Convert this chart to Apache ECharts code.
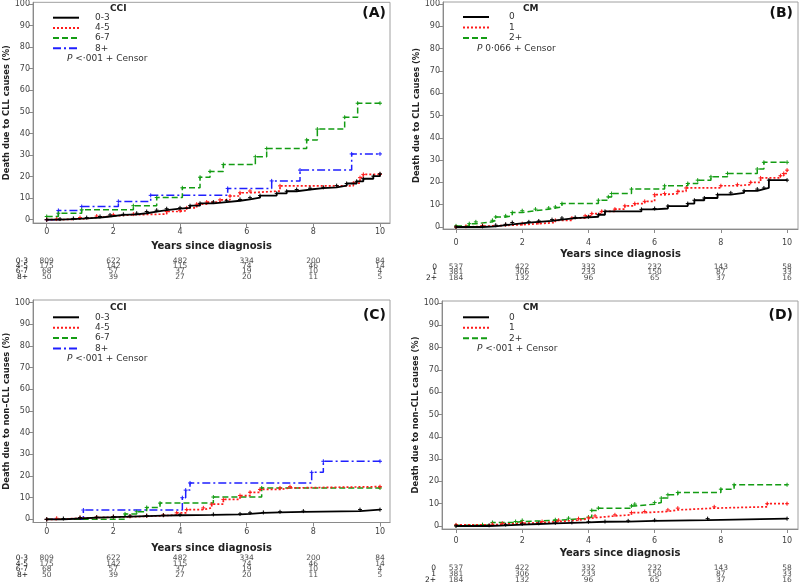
<!DOCTYPE html>
<html><head><meta charset="utf-8">
<script src="https://cdn.jsdelivr.net/npm/echarts@6/dist/echarts.min.js"></script>
<style>html,body{margin:0;padding:0;background:#fff}#c{width:800px;height:585px}</style>
</head><body><div id="c"></div>
<script>
// ---------- data ----------
const timeTicks = [0, 2, 4, 6, 8, 10];
const pctTicks = [0, 10, 20, 30, 40, 50, 60, 70, 80, 90, 100];
const cciGroups = ['0-3', '4-5', '6-7', '8+'];
const cmGroups = ['0', '1', '2+'];

// Panel A: death due to CLL causes by CCI  ([years, %] at each step)
const cllCci03 = [[0,0],[0.4,0.3],[0.8,0.6],[1.2,1],[1.6,1.5],[1.9,2.2],[2.3,2.5],[2.7,3],[3.0,3.8],[3.3,4.4],[3.6,5.1],[4.0,5.5],[4.3,6.5],[4.6,7.6],[5.0,8.2],[5.4,8.8],[5.8,9.4],[6.1,10.2],[6.4,11.2],[6.9,12.2],[7.2,13.2],[7.5,14],[7.9,14.6],[8.3,15],[8.7,15.8],[9.0,16.8],[9.3,17.8],[9.5,19],[9.8,20.2],[10,21.3]];
const cllCci45 = [[0,0],[0.3,0.3],[1.0,1],[1.5,1.7],[2.0,2.3],[2.6,2.6],[3.6,3.8],[4.0,4.2],[4.2,5.5],[4.5,7.2],[4.8,8.2],[5.2,9.2],[5.5,11],[5.8,12.5],[6.1,13.3],[7.0,15.7],[9.2,17],[9.4,19.5],[9.5,21],[10,21]];
const cllCci67 = [[0,1.5],[0.35,3],[1.05,4.6],[2.6,6.5],[3.3,10.3],[4.07,14.8],[4.6,19.7],[4.9,22.4],[5.3,25.6],[6.26,29.2],[6.6,33],[7.8,37],[8.12,42],[8.94,47.5],[9.33,54],[10,54]];
const cllCci8 = [[0,0],[0.35,4.3],[1.05,6.1],[2.15,8.5],[3.12,11.3],[5.43,14.5],[6.75,18],[7.6,23],[9.15,30.5],[10,30.5]];

// Panel B: death due to CLL causes by CM
const cllCm0 = [[0,0],[0.8,0.3],[1.2,0.8],[1.5,1.2],[1.7,2],[2.2,2.3],[2.5,2.7],[2.9,3.3],[3.2,4],[3.6,4.3],[4.0,4.6],[4.3,5.5],[4.5,7],[5.6,7.9],[6.0,8.3],[6.4,9.4],[7.0,10.5],[7.2,12],[7.5,13],[7.9,14.5],[8.3,15.3],[8.7,16.2],[9.1,17],[9.3,17.5],[9.45,21],[10,21]];
const cllCm1 = [[0,0],[0.3,0.3],[0.8,0.7],[1.5,1],[2.0,1.5],[2.5,2],[3.0,3],[3.5,4],[3.9,5],[4.1,6],[4.4,7],[4.8,8],[5.1,9.5],[5.4,10.5],[5.7,11.5],[6.0,14.5],[6.3,15],[6.7,16],[6.95,17.5],[8.0,18.5],[8.5,19],[8.9,20],[9.2,22],[9.8,23],[9.9,24],[10,25.5]];
const cllCm2 = [[0,0.5],[0.4,1.5],[0.6,2.3],[1.1,3],[1.2,4.5],[1.5,5],[1.7,6.5],[2.0,7.3],[2.4,8],[2.8,8.5],[3.0,9],[3.2,10.5],[4.3,12],[4.6,13.5],[4.7,15],[5.3,17],[6.3,18.5],[7.0,19.5],[7.3,21],[7.7,22.5],[8.2,24],[9.1,26],[9.3,29],[10,29]];

// Panel C: death due to non-CLL causes by CCI
const nonCci03 = [[0,0],[0.5,0.4],[1.0,0.8],[1.5,1],[2.0,1.3],[2.5,1.5],[3.0,1.7],[3.5,1.9],[4.0,2.1],[5.0,2.3],[5.8,2.5],[6.1,3],[6.5,3.2],[7.0,3.5],[7.7,3.8],[9.4,4.5],[10,4.5]];
const nonCci45 = [[0,0],[0.3,0.5],[1.0,0.8],[1.5,1],[2.0,1.2],[2.5,1.4],[3.0,1.7],[3.5,2],[3.9,3],[4.2,4.5],[4.7,5.3],[4.95,7],[5.3,9.2],[5.8,11],[6.1,12.5],[6.4,13.8],[7.0,14.5],[7.3,15.1],[10,15.1]];
const nonCci67 = [[0,0],[2.35,2.5],[2.7,3.5],[3.0,5.5],[3.4,7.5],[5.0,10.3],[6.45,14.5],[10,14.5]];
const nonCci8 = [[0,0],[1.1,4.3],[4.07,10],[4.17,13.5],[4.3,16.8],[7.95,21.7],[8.3,26.8],[10,26.8]];

// Panel D: death due to non-CLL causes by CM
const nonCm0 = [[0,0],[1.0,0.3],[1.5,0.6],[2.0,0.9],[2.5,1.2],[3.0,1.4],[3.5,1.6],[4.0,1.9],[4.5,2],[5.2,2.3],[6.0,2.6],[7.6,3.3],[10,3.3]];
const nonCm1 = [[0,0.5],[1.1,0.8],[1.4,1.2],[2.0,1.5],[2.6,2],[3.1,2.6],[3.7,3.3],[4.0,3.7],[4.2,4.5],[4.8,5],[5.3,6],[5.7,6.5],[6.4,7.2],[6.7,8],[7.8,8.6],[9.4,10],[10,10]];
const nonCm2 = [[0,0.3],[0.8,0.6],[1.1,1.6],[1.8,2],[2.0,2.5],[3.0,2.8],[3.4,3.5],[4.0,4],[4.1,7],[4.3,8],[5.3,9],[5.4,9.8],[6.0,10.5],[6.2,12.5],[6.4,14],[6.7,15],[8.0,16.5],[8.4,18.5],[10,18.5]];

// Numbers at risk at timeTicks
const riskCci03 = [809, 622, 482, 334, 200, 84];
const riskCci45 = [175, 142, 115, 74, 46, 14];
const riskCci67 = [68, 57, 37, 19, 10, 4];
const riskCci8 = [50, 39, 27, 20, 11, 5];
const riskCm0 = [537, 422, 332, 232, 143, 58];
const riskCm1 = [381, 306, 233, 150, 87, 33];
const riskCm2 = [184, 132, 96, 65, 37, 16];

const yNameCll = 'Death due to CLL causes (%)';
const yNameNon = 'Death due to non\u2013CLL causes (%)';
const xName = 'Years since diagnosis';

// ---------- styles / layout ----------
const FONT = "'DejaVu Sans', sans-serif";
const FONTC = "'DejaVu Sans Condensed', 'DejaVu Sans', sans-serif";
const lineStyles = [
  {color: '#000000', type: 'solid', width: 1.8},
  {color: '#ff1a1a', type: [2, 2], width: 1.7},
  {color: '#139c13', type: [6, 3], width: 1.5},
  {color: '#1f1fff', type: [8, 3, 2, 3], width: 1.5}
];
const panels = [
  {tag: '(A)', title: 'CCI', groups: cciGroups, curves: [cllCci03, cllCci45, cllCci67, cllCci8], yName: yNameCll, p: ' <\u00b7001 + Censor',
   grid: {left: 33, top: 1, width: 357, height: 222}, xr: [-0.411, 10.3], yr: [-1.52, 100.78], xLabMargin: 5, xNameGap: 18, yNameGap: 19,
   rgrid: {left: 33, top: 258, width: 357, height: 21.3}, rMargin: 5,
   leg: {left: 52, top: 12.7, gap: 0.2, pad: 11}, titlePos: [110, 9], pPos: [67, 58.7], tagPos: [386, 13]},
  {tag: '(B)', title: 'CM', groups: cmGroups, curves: [cllCm0, cllCm1, cllCm2], yName: yNameCll, p: ' 0\u00b7066 + Censor',
   grid: {left: 443, top: 2, width: 355, height: 227}, xr: [-0.393, 10.33], yr: [-0.9, 100.9], xLabMargin: 10, xNameGap: 20, yNameGap: 21,
   rgrid: {left: 443, top: 264.2, width: 355, height: 16.5}, rMargin: 6,
   leg: {left: 462, top: 12, gap: 0.5, pad: 15}, titlePos: [523, 9], pPos: [477, 48.7], tagPos: [793, 13]},
  {tag: '(C)', title: 'CCI', groups: cciGroups, curves: [nonCci03, nonCci45, nonCci67, nonCci8], yName: yNameNon, p: ' <\u00b7001 + Censor',
   grid: {left: 33, top: 300, width: 357, height: 222.5}, xr: [-0.411, 10.3], yr: [-1.45, 101.25], xLabMargin: 5, xNameGap: 21, yNameGap: 19,
   rgrid: {left: 33, top: 555.7, width: 357, height: 22}, rMargin: 5,
   leg: {left: 52, top: 312.3, gap: 0.4, pad: 11}, titlePos: [110, 308], pPos: [67, 358.3], tagPos: [386, 315]},
  {tag: '(D)', title: 'CM', groups: cmGroups, curves: [nonCm0, nonCm1, nonCm2], yName: yNameNon, p: ' <\u00b7001 + Censor',
   grid: {left: 442, top: 301, width: 356, height: 228}, xr: [-0.423, 10.33], yr: [-1.35, 100.9], xLabMargin: 8, xNameGap: 19, yNameGap: 21,
   rgrid: {left: 442, top: 564.7, width: 356, height: 18}, rMargin: 6,
   leg: {left: 462, top: 312.3, gap: 0.5, pad: 15}, titlePos: [523, 308], pPos: [477, 348.7], tagPos: [793, 315]}
];
panels[0].risk = [riskCci03, riskCci45, riskCci67, riskCci8];
panels[1].risk = [riskCm0, riskCm1, riskCm2];
panels[2].risk = [riskCci03, riskCci45, riskCci67, riskCci8];
panels[3].risk = [riskCm0, riskCm1, riskCm2];

const CENSOR = 'path://M5,0V10M0,5H10';
const grids = [], xAxes = [], yAxes = [], series = [], legends = [], graphics = [];
const axisGray = '#8a8a8a';

panels.forEach((p, i) => {
  const gi = grids.length;
  grids.push(Object.assign({show: true, borderColor: '#a0a0a0', borderWidth: 1, containLabel: false}, p.grid));
  grids.push(Object.assign({show: false}, p.rgrid));
  xAxes.push({type: 'value', gridIndex: gi, min: p.xr[0], max: p.xr[1],
    axisLine: {show: true, onZero: false, lineStyle: {color: axisGray}},
    axisTick: {show: true, customValues: timeTicks, length: 4, lineStyle: {color: axisGray}},
    axisLabel: {customValues: timeTicks, fontSize: 8, color: '#444', fontFamily: FONT, margin: p.xLabMargin},
    splitLine: {show: false},
    name: xName, nameLocation: 'middle', nameGap: p.xNameGap,
    nameTextStyle: {fontFamily: FONT, fontWeight: 'bold', fontSize: 10, color: '#222'}});
  yAxes.push({type: 'value', gridIndex: gi, min: p.yr[0], max: p.yr[1],
    axisLine: {show: true, onZero: false, lineStyle: {color: axisGray}},
    axisTick: {show: true, customValues: pctTicks, length: 4, lineStyle: {color: axisGray}},
    axisLabel: {customValues: pctTicks, fontSize: 8, color: '#444', fontFamily: FONT, margin: 3},
    splitLine: {show: false},
    name: p.yName, nameLocation: 'middle', nameGap: p.yNameGap,
    nameTextStyle: {fontFamily: FONTC, fontWeight: 'bold', fontSize: 9.3, color: '#222'}});
  xAxes.push({type: 'value', gridIndex: gi + 1, min: p.xr[0], max: p.xr[1], show: false});
  yAxes.push({type: 'category', gridIndex: gi + 1, data: p.groups, inverse: true,
    axisLine: {show: false}, axisTick: {show: false},
    axisLabel: {interval: 0, fontSize: 7.5, color: '#222', fontFamily: FONT, margin: p.rMargin, lineHeight: 6}});

  p.groups.forEach((g, k) => {
    const ls = lineStyles[k];
    series.push({type: 'line', name: g, xAxisIndex: gi, yAxisIndex: gi, step: 'end',
      data: p.curves[k], symbol: CENSOR, symbolSize: 4, showSymbol: true,
      lineStyle: {color: ls.color, type: ls.type, width: ls.width},
      itemStyle: {color: ls.color, borderColor: ls.color, borderWidth: 1},
      z: 10 - k, animation: false, silent: true});
    series.push({type: 'scatter', name: 'risk ' + p.tag + ' ' + g, xAxisIndex: gi + 1, yAxisIndex: gi + 1,
      data: timeTicks.map((t, j) => [t, g, p.risk[k][j]]), symbolSize: 0.1,
      label: {show: true, position: 'inside', formatter: d => String(d.value[2]), fontSize: 7.5, lineHeight: 6, fontFamily: FONT, color: '#222'},
      labelLayout: {hideOverlap: false},
      animation: false, silent: true});
  });

  legends.push({show: true, orient: 'vertical', left: p.leg.left, top: p.leg.top, itemWidth: 26, itemHeight: 10,
    itemGap: p.leg.gap, data: p.groups, selectedMode: false, padding: 0,
    itemStyle: {opacity: 0},
    textStyle: {fontSize: 9, color: '#333', fontFamily: FONT, padding: [0, 0, 0, p.leg.pad]}});

  graphics.push({type: 'text', x: p.titlePos[0], y: p.titlePos[1],
    style: {text: p.title, fontFamily: FONT, fontWeight: 'bold', fontSize: 9, fill: '#222', verticalAlign: 'middle', align: 'left'}});
  graphics.push({type: 'text', x: p.pPos[0], y: p.pPos[1],
    style: {text: '{i|P}' + p.p, fontFamily: FONT, fontSize: 9, fill: '#333', verticalAlign: 'middle', align: 'left',
      rich: {i: {fontStyle: 'italic', fontFamily: FONT, fontSize: 9, fill: '#333'}}}});
  graphics.push({type: 'text', x: p.tagPos[0], y: p.tagPos[1],
    style: {text: p.tag, fontFamily: FONT, fontWeight: 'bold', fontSize: 14, fill: '#111', verticalAlign: 'middle', align: 'right'}});
});

const chart = echarts.init(document.getElementById('c'), null, {renderer: 'canvas'});
chart.setOption({
  animation: false,
  backgroundColor: '#ffffff',
  grid: grids, xAxis: xAxes, yAxis: yAxes, series: series, legend: legends,
  graphic: graphics
});
</script></body></html>
